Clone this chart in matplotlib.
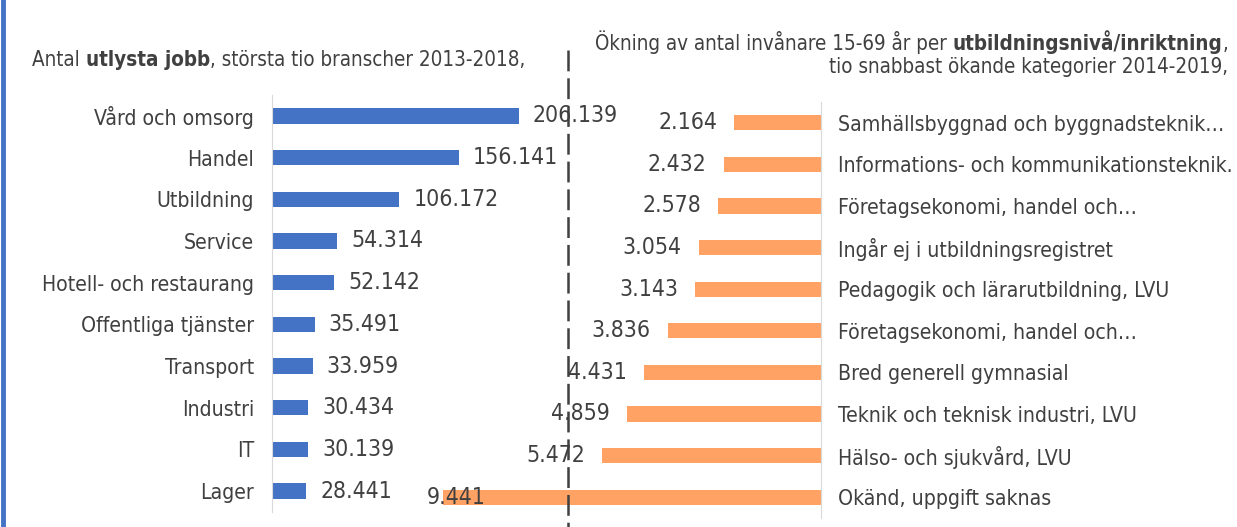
import matplotlib.pyplot as plt
from matplotlib.lines import Line2D

plt.rcParams['font.family'] = 'DejaVu Sans'
plt.rcParams['font.stretch'] = 'condensed'
plt.rcParams['lines.scale_dashes'] = False

left_cats = ["Vård och omsorg", "Handel", "Utbildning", "Service", "Hotell- och restaurang",
             "Offentliga tjänster", "Transport", "Industri", "IT", "Lager"]
left_vals = [206.139, 156.141, 106.172, 54.314, 52.142, 35.491, 33.959, 30.434, 30.139, 28.441]

right_cats = ["Samhällsbyggnad och byggnadsteknik…", "Informations- och kommunikationsteknik.",
              "Företagsekonomi, handel och…", "Ingår ej i utbildningsregistret",
              "Pedagogik och lärarutbildning, LVU", "Företagsekonomi, handel och…",
              "Bred generell gymnasial", "Teknik och teknisk industri, LVU",
              "Hälso- och sjukvård, LVU", "Okänd, uppgift saknas"]
right_vals = [2.164, 2.432, 2.578, 3.054, 3.143, 3.836, 4.431, 4.859, 5.472, 9.441]

W, H = 1237, 527
blue = '#4472C4'
orange = '#FFA264'
txt = '#404040'
grid = '#D9D9D9'
cat_fs = 15.2
val_fs = 16.5
title_fs = 14.8

fig = plt.figure(figsize=(W / 100, H / 100), dpi=100)

def px_axes(x0, y0, x1, y1):
    ax = fig.add_axes([x0 / W, 1 - y1 / H, (x1 - x0) / W, (y1 - y0) / H])
    ax.set_facecolor('none')
    return ax

# left panel: 1.198 px per unit
axL = px_axes(272, 95, 560, 512)
axL.set_xlim(0, 288 / 1.198)
axL.set_ylim(len(left_vals) - 0.5, -0.5)
axL.barh(range(len(left_vals)), left_vals, height=0.37, color=blue)
axL.set_yticks(range(len(left_cats)), left_cats, fontsize=cat_fs, color=txt)
axL.tick_params(axis='y', length=0, pad=13)
axL.set_xticks([])
for s in ['top', 'right', 'bottom']:
    axL.spines[s].set_visible(False)
axL.spines['left'].set_color(grid)
for i, v in enumerate(left_vals):
    axL.annotate(f"{v:.3f}", (v, i), xytext=(14, 0), textcoords='offset pixels',
                 ha='left', va='center', fontsize=val_fs, color=txt, annotation_clip=False)

# right panel: 40 px per unit, bars grow to the left
axR = px_axes(421, 102, 821, 518)
axR.set_xlim(10, 0)
axR.set_ylim(len(right_vals) - 0.5, -0.5)
axR.barh(range(len(right_vals)), right_vals, height=0.37, color=orange)
axR.yaxis.tick_right()
axR.set_yticks(range(len(right_cats)), right_cats, fontsize=cat_fs, color=txt)
axR.tick_params(axis='y', length=0, pad=12)
axR.set_xticks([])
for s in ['top', 'left', 'bottom']:
    axR.spines[s].set_visible(False)
axR.spines['right'].set_color(grid)
for i, v in enumerate(right_vals):
    if v == max(right_vals):
        axR.annotate(f"{v:.3f}", (v, i), xytext=(13, 0), textcoords='offset pixels',
                     ha='center', va='center', fontsize=val_fs, color=txt, annotation_clip=False)
    else:
        axR.annotate(f"{v:.3f}", (v, i), xytext=(-17, 0), textcoords='offset pixels',
                     ha='right', va='center', fontsize=val_fs, color=txt, annotation_clip=False)

# titles with bold parts
t1 = fig.text(32 / W, 1 - 70 / H, "Antal ", fontsize=title_fs, color=txt, va='bottom')
t2 = axL.annotate("utlysta jobb", (1, 0), xycoords=t1, ha='left', va='bottom',
                  fontsize=title_fs, color=txt, weight='bold', annotation_clip=False)
axL.annotate(", största tio branscher 2013-2018,", (1, 0), xycoords=t2, ha='left',
             va='bottom', fontsize=title_fs, color=txt, annotation_clip=False)

r3 = fig.text(1228 / W, 1 - 54 / H, ",", fontsize=title_fs, color=txt, ha='right', va='bottom')
r2 = axR.annotate("utbildningsnivå/inriktning", (0, 0), xycoords=r3, ha='right', va='bottom',
                  fontsize=title_fs, color=txt, weight='bold', annotation_clip=False)
axR.annotate("Ökning av antal invånare 15-69 år per ", (0, 0), xycoords=r2, ha='right',
             va='bottom', fontsize=title_fs, color=txt, annotation_clip=False)
fig.text(1228 / W, 1 - 77 / H, "tio snabbast ökande kategorier 2014-2019,", fontsize=title_fs,
         color=txt, ha='right', va='bottom')

# dashed separator and left border
fig.add_artist(Line2D([568 / W, 568 / W], [1 - 50 / H, 0], color='#404040', lw=1.8,
                      linestyle=(0, (15, 5))))
fig.add_artist(Line2D([2.5 / W, 2.5 / W], [0, 1], color=blue, lw=3.5))

fig.savefig('out.png', dpi=100)
